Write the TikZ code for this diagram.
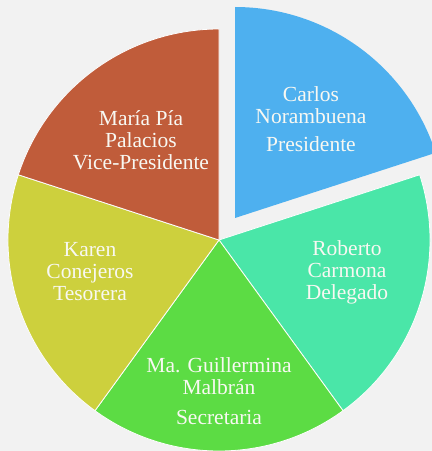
\documentclass[tikz,border=0pt]{standalone}
\usepackage{fontspec}
\setmainfont{Liberation Serif}
\definecolor{bgc}{HTML}{F2F2F2}
\definecolor{cblue}{HTML}{4EB0EF}
\definecolor{cteal}{HTML}{4AE6A8}
\definecolor{cgreen}{HTML}{5CDC44}
\definecolor{cyellow}{HTML}{CDD03D}
\definecolor{cbrown}{HTML}{C05C3A}
\definecolor{ctext}{HTML}{F8F8F2}
\tikzset{
  slice/.style={draw=white!85!bgc, line width=0.8pt},
  lbl/.style={text=ctext, align=center, font=\fontsize{21.5}{22}\selectfont, inner sep=0pt}
}
\begin{document}
\begin{tikzpicture}[x=1pt,y=1pt]
\fill[bgc] (0,0) rectangle (432,451);
\useasboundingbox (0,0) rectangle (432,451);
\coordinate (c) at (219,211);
\coordinate (cb) at (235,233);
% slices
\filldraw[slice, fill=cteal]   (c) -- ++(-54:211pt) arc[start angle=-54, end angle=18, radius=211pt] -- cycle;
\filldraw[slice, fill=cgreen]  (c) -- ++(234:211pt) arc[start angle=234, end angle=306, radius=211pt] -- cycle;
\filldraw[slice, fill=cyellow] (c) -- ++(162:211pt) arc[start angle=162, end angle=234, radius=211pt] -- cycle;
\filldraw[slice, fill=cbrown]  (c) -- ++(90:211pt) arc[start angle=90, end angle=162, radius=211pt] -- cycle;
\filldraw[slice, draw=none, fill=cblue] (cb) -- ++(18:211pt) arc[start angle=18, end angle=90, radius=211pt] -- cycle;
% labels
\node[lbl] (pres) at (311,332) {Carlos\\Norambuena\\[6pt]Presidente};
\node[lbl] (vice) at (141,311) {María Pía\\Palacios\\Vice-Presidente};
\node[lbl] (teso) at (90,179) {Karen\\Conejeros\\Tesorera};
\node[lbl] (dele) at (347,179) {Roberto\\Carmona\\Delegado};
\node[lbl] (secr) at (219,60) {Ma. Guillermina\\Malbrán\\[8pt]Secretaria};
\end{tikzpicture}
\end{document}
